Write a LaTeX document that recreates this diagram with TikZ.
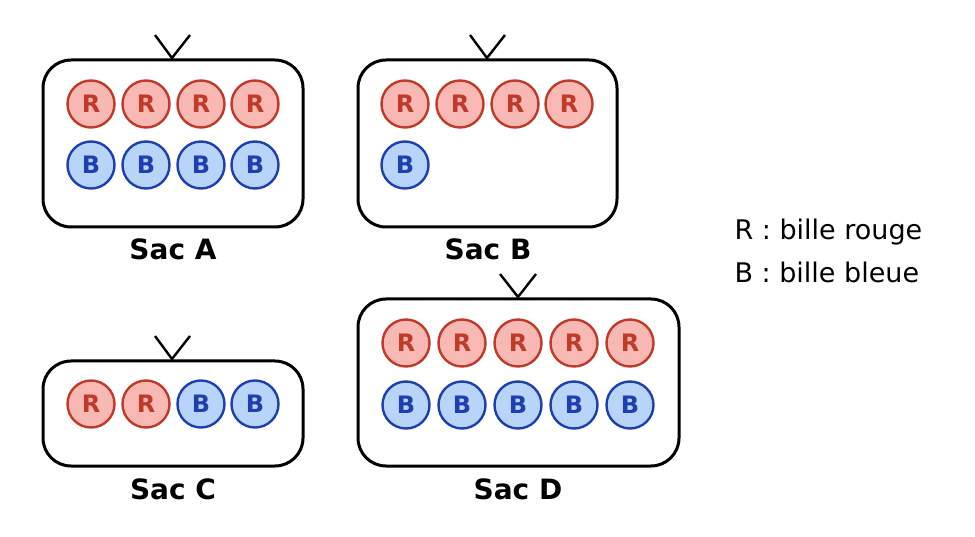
\documentclass[tikz,border=0pt]{standalone}
\usepackage{fontspec}
\setmainfont{DejaVu Sans}
\begin{document}
\begin{tikzpicture}[x=1pt,y=-1pt,
  bag/.style={draw=black,line width=3pt,rounded corners=28pt},
  handle/.style={draw=black,line width=2.4pt},
  rb/.style={circle,draw={rgb,255:red,192;green,57;blue,43},fill={rgb,255:red,248;green,184;blue,180},line width=2.4pt,minimum size=47pt,inner sep=0pt,font=\fontsize{24}{24}\selectfont\bfseries,text={rgb,255:red,192;green,57;blue,43}},
  bb/.style={circle,draw={rgb,255:red,31;green,63;blue,176},fill={rgb,255:red,184;green,212;blue,248},line width=2.4pt,minimum size=47pt,inner sep=0pt,font=\fontsize{24}{24}\selectfont\bfseries,text={rgb,255:red,31;green,63;blue,176}},
  lab/.style={font=\fontsize{28}{28}\selectfont\bfseries},
  leg/.style={font=\fontsize{27}{27}\selectfont,anchor=west}]
\useasboundingbox (0,0) rectangle (975,537);
% Bag A
\node[bag,minimum width=260pt,minimum height=167pt] (A) at (173,143.5) {};
\coordinate (Ah1) at (155,35); \coordinate (At) at (172,58); \coordinate (Ah2) at (190,35);
\draw[handle] (Ah1) -- (At) -- (Ah2);
\foreach \x [count=\i] in {91,146,201,255}{
  \node[rb] (Ar\i) at (\x,104) {R};
  \node[bb] (Ab\i) at (\x,165) {B};}
\node[lab] (LA) at (173,249) {Sac A};
% Bag B
\node[bag,minimum width=259pt,minimum height=167pt] (B) at (487.5,143.5) {};
\coordinate (Bh1) at (470,35); \coordinate (Bt) at (487,58); \coordinate (Bh2) at (505,35);
\draw[handle] (Bh1) -- (Bt) -- (Bh2);
\foreach \x [count=\i] in {405,460,515,569}{
  \node[rb] (Br\i) at (\x,104) {R};}
\node[bb] (Bb1) at (405,165) {B};
\node[lab] (LB) at (488,249) {Sac B};
% Bag C
\node[bag,minimum width=260pt,minimum height=105pt] (C) at (173,413.5) {};
\coordinate (Ch1) at (155,336); \coordinate (Ct) at (172,359); \coordinate (Ch2) at (190,336);
\draw[handle] (Ch1) -- (Ct) -- (Ch2);
\node[rb] (Cr1) at (91,404) {R};
\node[rb] (Cr2) at (146,404) {R};
\node[bb] (Cb1) at (201,404) {B};
\node[bb] (Cb2) at (255,404) {B};
\node[lab] (LC) at (173,489) {Sac C};
% Bag D
\node[bag,minimum width=321pt,minimum height=167pt] (D) at (518.5,382.5) {};
\coordinate (Dh1) at (500,274); \coordinate (Dt) at (518,297); \coordinate (Dh2) at (536,274);
\draw[handle] (Dh1) -- (Dt) -- (Dh2);
\foreach \x [count=\i] in {406,462,518,574,630}{
  \node[rb] (Dr\i) at (\x,343) {R};
  \node[bb] (Db\i) at (\x,405) {B};}
\node[lab] (LD) at (518,489) {Sac D};
% Legend
\node[leg] (L1) at (731,232) {R : bille rouge};
\node[leg] (L2) at (731,272) {B : bille bleue};
\end{tikzpicture}
\end{document}
